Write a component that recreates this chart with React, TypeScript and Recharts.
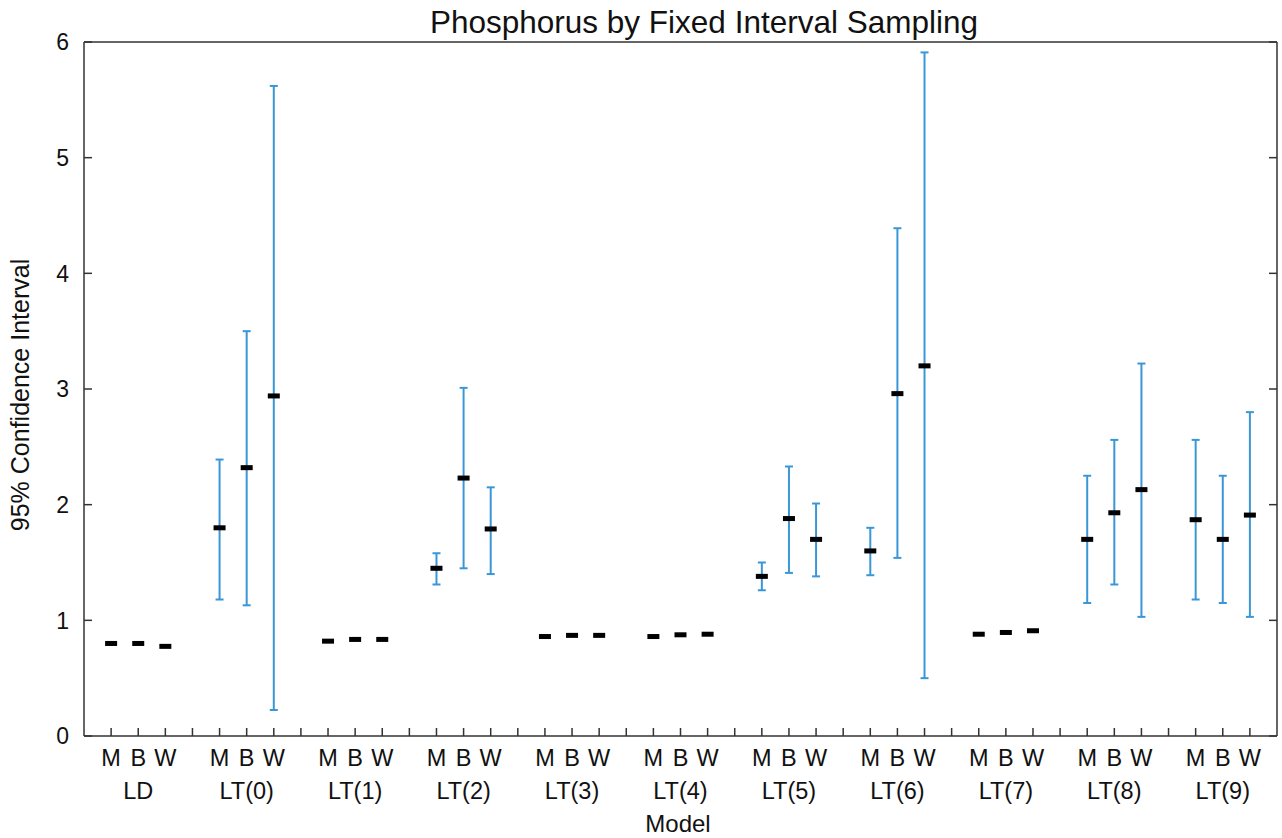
import React from "react";
import { ComposedChart, Scatter, XAxis, YAxis, ErrorBar } from "recharts";

const groups = ["LD", "LT(0)", "LT(1)", "LT(2)", "LT(3)", "LT(4)", "LT(5)", "LT(6)", "LT(7)", "LT(8)", "LT(9)"];
const methods = ["M", "B", "W"];

const meanM = [0.8, 1.8, 0.82, 1.45, 0.86, 0.86, 1.38, 1.6, 0.88, 1.7, 1.87];
const meanB = [0.8, 2.32, 0.835, 2.23, 0.87, 0.875, 1.88, 2.96, 0.895, 1.93, 1.7];
const meanW = [0.775, 2.94, 0.835, 1.79, 0.87, 0.88, 1.7, 3.2, 0.91, 2.13, 1.91];

const lowM = [null, 1.18, null, 1.31, null, null, 1.26, 1.39, null, 1.15, 1.18];
const highM = [null, 2.39, null, 1.58, null, null, 1.5, 1.8, null, 2.25, 2.56];
const lowB = [null, 1.13, null, 1.45, null, null, 1.41, 1.54, null, 1.31, 1.15];
const highB = [null, 3.5, null, 3.01, null, null, 2.33, 4.39, null, 2.56, 2.25];
const lowW = [null, 0.225, null, 1.4, null, null, 1.38, 0.5, null, 1.03, 1.03];
const highW = [null, 5.62, null, 2.15, null, null, 2.01, 5.91, null, 3.22, 2.8];

const yTicks = [0, 1, 2, 3, 4, 5, 6];

const means = [meanM, meanB, meanW];
const lows = [lowM, lowB, lowW];
const highs = [highM, highB, highW];

const slotsPerGroup = methods.length + 1;
const totalSlots = groups.length * slotsPerGroup;
const xTicks = Array.from({ length: totalSlots - 1 }, (_, i) => i + 1);

type Row = { x: number; y: number; err?: [number, number] };
const meanRows: Row[] = [];
const errRows: Row[] = [];
groups.forEach((_, g) => {
  methods.forEach((__, j) => {
    const x = g * slotsPerGroup + j + 1;
    const y = means[j][g];
    meanRows.push({ x, y });
    const lo = lows[j][g];
    const hi = highs[j][g];
    if (lo != null && hi != null) {
      errRows.push({ x, y, err: [y - lo, hi - y] });
    }
  });
});

const FONT = "'Liberation Sans', Arial, Helvetica, sans-serif";
const AXIS = "#333";
const TICK = 8;

const BottomTick = (props: any) => {
  const { x, y, payload } = props;
  const idx = Math.round(payload.value) - 1;
  const g = Math.floor(idx / slotsPerGroup);
  const j = idx % slotsPerGroup;
  const showLabel = j < methods.length && g < groups.length;
  return (
    <g>
      <line x1={x} x2={x} y1={y} y2={y - TICK} stroke={AXIS} strokeWidth={1.5} />
      {showLabel && (
        <text x={x} y={y + 30} textAnchor="middle" fontSize={23.5} fill="#111" fontFamily={FONT}>
          {methods[j]}
        </text>
      )}
      {showLabel && j === 1 && (
        <text x={x} y={y + 63} textAnchor="middle" fontSize={23.5} fill="#111" fontFamily={FONT}>
          {groups[g]}
        </text>
      )}
    </g>
  );
};

const TopTick = (props: any) => {
  const { x, y } = props;
  return <line x1={x} x2={x} y1={y} y2={y + TICK} stroke={AXIS} strokeWidth={1.5} />;
};

const LeftTick = (props: any) => {
  const { x, y, payload } = props;
  return (
    <g>
      <line x1={x} x2={x + TICK} y1={y} y2={y} stroke={AXIS} strokeWidth={1.5} />
      <text x={x - 15} y={y} dy="0.36em" textAnchor="end" fontSize={23} fill="#111" fontFamily={FONT}>
        {payload.value}
      </text>
    </g>
  );
};

const RightTick = (props: any) => {
  const { x, y } = props;
  return <line x1={x} x2={x - TICK} y1={y} y2={y} stroke={AXIS} strokeWidth={1.5} />;
};

const MeanMark = (props: any) => {
  const { cx, cy } = props;
  if (cx == null || cy == null) return <g />;
  return <rect x={cx - 6} y={cy - 2.5} width={12} height={5} fill="#000" />;
};

const Nothing = () => <g />;

export default function App() {
  return (
    <div style={{ position: "absolute", left: 0, top: 0, width: 1282, height: 838, background: "#fff", fontFamily: FONT }}>
      <ComposedChart width={1282} height={838} margin={{ top: 41, right: 4, bottom: 0, left: 0 }}>
        <XAxis
          dataKey="x"
          type="number"
          domain={[0, totalSlots]}
          ticks={xTicks}
          interval={0}
          allowDataOverflow
          height={102}
          tickSize={0}
          tickMargin={0}
          tickLine={false}
          tick={<BottomTick />}
          stroke={AXIS}
          strokeWidth={1.5}
        />
        <XAxis
          xAxisId="top"
          orientation="top"
          type="number"
          domain={[0, totalSlots]}
          ticks={xTicks}
          interval={0}
          allowDataOverflow
          height={1}
          tickSize={0}
          tickMargin={0}
          tickLine={false}
          tick={<TopTick />}
          stroke={AXIS}
          strokeWidth={1.5}
        />
        <YAxis
          type="number"
          domain={[0, 6]}
          ticks={yTicks}
          interval={0}
          allowDataOverflow
          width={84}
          tickSize={0}
          tickMargin={0}
          tickLine={false}
          tick={<LeftTick />}
          stroke={AXIS}
          strokeWidth={1.5}
        />
        <YAxis
          yAxisId="right"
          orientation="right"
          type="number"
          domain={[0, 6]}
          ticks={yTicks}
          interval={0}
          allowDataOverflow
          width={1}
          tickSize={0}
          tickMargin={0}
          tickLine={false}
          tick={<RightTick />}
          stroke={AXIS}
          strokeWidth={1.5}
        />
        <Scatter data={errRows} dataKey="y" shape={<Nothing />} isAnimationActive={false}>
          <ErrorBar dataKey="err" direction="y" width={4} stroke="#3a97d7" strokeWidth={2} isAnimationActive={false} />
        </Scatter>
        <Scatter data={meanRows} dataKey="y" shape={<MeanMark />} isAnimationActive={false} />
      </ComposedChart>
      <div
        style={{
          position: "absolute",
          left: 704,
          top: 22,
          transform: "translate(-50%, -50%)",
          fontSize: 31.5,
          whiteSpace: "nowrap",
          color: "#111",
        }}
      >
        Phosphorus by Fixed Interval Sampling
      </div>
      <div
        style={{
          position: "absolute",
          left: 20,
          top: 395,
          transform: "translate(-50%, -50%) rotate(-90deg)",
          fontSize: 25,
          whiteSpace: "nowrap",
          color: "#111",
        }}
      >
        95% Confidence Interval
      </div>
      <div
        style={{
          position: "absolute",
          left: 678,
          top: 824,
          transform: "translate(-50%, -50%)",
          fontSize: 24,
          whiteSpace: "nowrap",
          color: "#111",
        }}
      >
        Model
      </div>
    </div>
  );
}
